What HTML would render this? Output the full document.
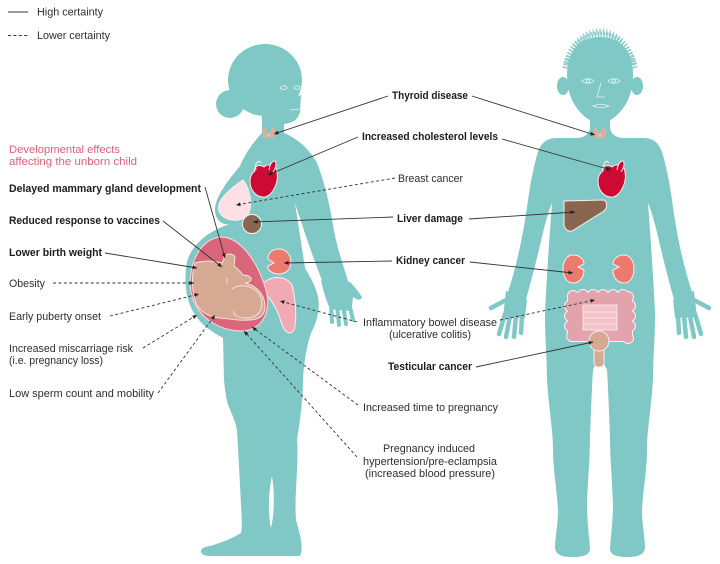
<!DOCTYPE html>
<html><head><meta charset="utf-8"><style>
html,body{margin:0;padding:0;background:#fff;}
svg{display:block;}
text{font-family:"Liberation Sans",sans-serif;font-size:11px;fill:#2e2e2e;}
.b{font-weight:bold;fill:#1c1c1c;}
.p{fill:#e0607a;}
.l{stroke:#333;stroke-width:0.9;fill:none;}
.d{stroke:#333;stroke-width:0.9;fill:none;stroke-dasharray:3 2.4;}
.o{stroke:#fbeef0;stroke-width:1;}
</style></head><body>
<svg width="720" height="564" viewBox="0 0 720 564" xmlns="http://www.w3.org/2000/svg">
<defs>
<marker id="a" markerWidth="6" markerHeight="6" refX="4.5" refY="3" orient="auto" markerUnits="userSpaceOnUse"><path d="M0,1 L4.5,3 L0,5 Z" fill="#222"/></marker>
<path id="manL" d="M600,115 L590,115 L590,128 C589,134 585,137 578,138 L556,138 C546,138 540,144 537,155 C533,170 530,185 528,200 C524,230 518,262 507,295 L525,303 C530,285 536,263 540,245 C544,228 548,212 552,203 C550,230 547,270 545,313 C545,340 547,360 547,380 C549,410 553,430 553,450 C553,470 557,490 558,510 C558,525 555,538 555,548 C556,555 562,557 572,557 C582,557 590,556 590,548 C589,535 587,520 587,503 C588,480 590,455 590,437 C591,410 592,385 593,370 C595,364 598,362 600,362 Z"/>
<g id="manHand">
<path d="M506,291 L527,300 L525,318 L503,317 Z"/>
<g stroke="#7fc8c6" stroke-width="4.5" stroke-linecap="round">
<line x1="508" y1="299" x2="491" y2="308"/>
<line x1="505" y1="314" x2="499" y2="334"/>
<line x1="510" y1="316" x2="506" y2="337"/>
<line x1="516" y1="316" x2="514" y2="337"/>
<line x1="522" y1="315" x2="521" y2="333"/>
</g>
</g>
<path id="kid" d="M573,255 C579,255 584,259 584,264 L578,267 L584,270 C584,278 579,283 573,283 C567,283 563,277 563,269 C563,261 567,255 573,255 Z"/>
<g id="heart">
<path d="M255,171 C253,166 260,164 264,167 C268,163 277,165 277,172 C279,182 273,195 265,197 C256,198 250,190 250,181 C250,176 252,173 255,171 Z" fill="#cc0a34" stroke="#fbeef0" stroke-width="1"/>
<path d="M256,170 C255,165 256,162 259,161 M259,161 L261,163" stroke="#fbeef0" stroke-width="1" fill="none"/>
<path d="M269,170 C270,164 272,161 275,161 C277,163 276,168 273,172" stroke="#fbeef0" stroke-width="1" fill="#cc0a34"/>
</g>
<g id="thy">
<path d="M263,130 C263,127 267,127 267,130 L267,133 L271,133 L271,130 C271,127 275,127 275,130 L275,136 C275,139 271,139 270,137 L268,137 C267,139 263,139 263,136 Z" fill="#dcae9c"/>
<line x1="269" y1="133" x2="269" y2="137" stroke="#f6e3dc" stroke-width="0.8"/>
</g>
</defs>

<!-- legend -->
<line x1="8" y1="12" x2="28" y2="12" class="l"/>
<line x1="8" y1="35.5" x2="28" y2="35.5" class="d"/>
<text x="37" y="15.5" textLength="66" lengthAdjust="spacingAndGlyphs">High certainty</text>
<text x="37" y="39" textLength="73" lengthAdjust="spacingAndGlyphs">Lower certainty</text>

<!-- WOMAN -->
<g fill="#7fc8c6">
<ellipse cx="265" cy="80" rx="37" ry="36"/>
<circle cx="230" cy="104" r="14"/>
<path d="M266,108 L301,95 L300,112 C298,120 292,123 284,124 L266,126 Z"/>
<rect x="262" y="110" width="22" height="30"/>
<path d="M263,132 C255,140 246,152 240,166 C230,178 215,196 215,210 C215,221 224,226 231,224 C214,228 192,242 187,262 C183,285 186,310 205,326 C212,332 218,335 223,338 L224,380 C225,390 226,397 228,405 C231,412 235,420 237,430 C238,450 240,480 241,505 C242,520 242,528 241,533 C230,540 215,545 205,547 C199,549 199,556 210,556 L300,556 C304,548 300,535 296,520 C294,495 299,465 297,440 C300,420 303,400 303,380 C304,360 307,345 311,333 C318,320 321,305 317,293 C314,283 309,275 305,268 L295,203 C302,225 312,255 323,283 L349,284 C343,265 336,245 333,225 C329,200 323,178 317,163 C309,148 296,138 284,133 Z"/>
<path d="M321,280 L350,282 C355,287 359,292 362,297 C361,301 357,300 353,297 L352,306 C350,312 345,312 340,310 L330,309 C326,300 323,290 321,280 Z"/>
<g stroke="#7fc8c6" stroke-width="4" stroke-linecap="round">
<line x1="331" y1="304" x2="332" y2="322"/>
<line x1="337" y1="305" x2="339" y2="325"/>
<line x1="343" y1="305" x2="346" y2="324"/>
<line x1="349" y1="303" x2="353" y2="320"/>
</g>
</g>
<path d="M272,476 C268,495 268,515 271,528 C274,515 275,495 272,476 Z" fill="#fff"/>
<!-- woman face -->
<path d="M280,88 C282,85 286,85 287,88 C285,90 282,90 280,88 Z M294,88 C296,85 299,85 300,88 C298,90 296,90 294,88 Z" fill="none" stroke="#e6f4f3" stroke-width="0.8"/>
<path d="M290,110 L299,109" stroke="#e6f4f3" stroke-width="0.8"/>

<!-- woman organs -->
<use href="#thy"/>
<use href="#heart"/>
<path d="M243,180 C248,186 252,198 250,210 C248,218 240,221 232,220 C222,219 217,212 219,204 C222,195 234,186 243,180 Z" fill="#fde0e5" class="o"/>
<circle cx="252" cy="224" r="9.5" fill="#8a6650" class="o"/>
<path d="M279,249 C287,249 291,256 291,262 C291,269 286,274 279,274 C272,274 267,270 268,266 L274,263 L268,259 C268,253 272,249 279,249 Z" fill="#ec7a6f" class="o"/>
<path d="M262,285 C268,276 285,274 292,285 C296,300 297,320 294,330 C290,336 285,332 282,325 C278,310 272,300 264,292 C260,290 260,287 262,285 Z" fill="#f1aab4" class="o"/>
<path d="M220,237 C240,236 258,262 266,290 C272,312 262,330 242,331 C220,331 196,318 191,292 C187,265 200,239 220,237 Z" fill="#d9667b" stroke="#f6d0d5" stroke-width="1.2"/>
<path d="M195,263 C205,260 214,261 222,263 L224,259 C222,253 235,252 235,258 L234,266 C238,269 241,272 243,275 C248,275 252,277 251,280 C249,283 246,283 245,283 C255,285 264,293 265,305 C266,316 258,320 248,320 C240,321 230,319 220,318 C208,317 199,311 196,303 C192,293 191,275 195,263 Z" fill="#d6a993" stroke="#f6e3dc" stroke-width="1"/>
<path d="M232,289 C240,283 256,285 261,298 C264,310 258,318 246,318 C238,318 233,315 234,311" fill="none" stroke="#f6e3dc" stroke-width="1"/>
<path d="M227,278 L227,283" stroke="#f6e3dc" stroke-width="1"/>

<!-- MAN -->
<g fill="#7fc8c6">
<use href="#manL"/>
<use href="#manL" transform="matrix(-1 0 0 1 1200 0)"/>
<use href="#manHand"/>
<use href="#manHand" transform="matrix(-1 0 0 1 1200 0)"/>
<path d="M567,75 C567,50 580,37 600,37 C620,37 633,50 633,75 C633,95 625,110 612,119 C606,123 594,123 588,119 C575,110 567,95 567,75 Z"/>
<ellipse cx="563" cy="86" rx="6" ry="9"/>
<ellipse cx="637" cy="86" rx="6" ry="9"/>
</g>
<path d="M567.2,68.6 A34 44 0 0 1 632.8 68.6" fill="none" stroke="#7fc8c6" stroke-width="10" stroke-dasharray="1.2 1.6"/>
<path d="M566,66 A35 45 0 0 1 634 66" fill="none" stroke="#7fc8c6" stroke-width="6" stroke-dasharray="1 2.3" stroke-dashoffset="1"/>
<!-- man face -->
<g fill="none" stroke="#e6f4f3" stroke-width="0.8">
<path d="M582,81 C585,78 591,78 594,81 C591,84 585,84 582,81 Z"/>
<circle cx="588" cy="81" r="1.5"/>
<path d="M608,81 C611,78 617,78 620,81 C617,84 611,84 608,81 Z"/>
<circle cx="614" cy="81" r="1.5"/>
<path d="M601,83 L597,97 L605,97"/>
<path d="M593,106 C598,104 604,104 609,106 C604,108 598,108 593,106 Z"/>
</g>

<!-- man organs -->
<use href="#thy" transform="translate(331,0)"/>
<use href="#heart" transform="translate(348,0)"/>
<path d="M564,201 L604,200 C608,203 607,208 604,211 L572,231 C567,232 564,228 564,224 Z" fill="#8a6650" class="o"/>
<use href="#kid" fill="#ec7a6f" class="o"/>
<use href="#kid" fill="#ec7a6f" class="o" transform="matrix(-1 0 0 1 1197 0)"/>
<g fill="#e3a3ac" stroke="#fbeef0" stroke-width="2">
<rect x="568" y="293" width="64" height="48" rx="5"/>
<circle cx="573" cy="296" r="5"/><circle cx="583" cy="295" r="5"/><circle cx="593" cy="295" r="5"/><circle cx="603" cy="295" r="5"/><circle cx="613" cy="295" r="5"/><circle cx="623" cy="295" r="5"/><circle cx="628" cy="297" r="5"/>
<circle cx="570" cy="306" r="5"/><circle cx="570" cy="316" r="5"/><circle cx="570" cy="326" r="5"/><circle cx="572" cy="336" r="5"/>
<circle cx="630" cy="306" r="5"/><circle cx="630" cy="316" r="5"/><circle cx="630" cy="326" r="5"/><circle cx="628" cy="338" r="5"/>
</g>
<g fill="#e3a3ac">
<rect x="568" y="293" width="64" height="48" rx="5"/>
<circle cx="573" cy="296" r="5"/><circle cx="583" cy="295" r="5"/><circle cx="593" cy="295" r="5"/><circle cx="603" cy="295" r="5"/><circle cx="613" cy="295" r="5"/><circle cx="623" cy="295" r="5"/><circle cx="628" cy="297" r="5"/>
<circle cx="570" cy="306" r="5"/><circle cx="570" cy="316" r="5"/><circle cx="570" cy="326" r="5"/><circle cx="572" cy="336" r="5"/>
<circle cx="630" cy="306" r="5"/><circle cx="630" cy="316" r="5"/><circle cx="630" cy="326" r="5"/><circle cx="628" cy="338" r="5"/>
</g>
<rect x="583" y="305" width="34" height="25" fill="#f2c3c8" stroke="#fbeef0" stroke-width="0.8"/>
<path d="M583,312 L617,312 M583,318 L617,318 M583,324 L617,324" stroke="#fbeef0" stroke-width="0.8"/>
<rect x="594" y="345" width="10" height="22" rx="4" fill="#d6a993" stroke="#fbeef0" stroke-width="1"/>
<circle cx="599" cy="341" r="10" fill="#d6a993" stroke="#fbeef0" stroke-width="1"/>

<!-- connectors: left labels -->
<path d="M205,187 L225,258" class="l" marker-end="url(#a)"/>
<path d="M163,221 L222,267" class="l" marker-end="url(#a)"/>
<path d="M105,253 L197,268" class="l" marker-end="url(#a)"/>
<path d="M53,283 L194,283" class="d" marker-end="url(#a)"/>
<path d="M110,316 L199,294" class="d" marker-end="url(#a)"/>
<path d="M143,348 L197,315" class="d" marker-end="url(#a)"/>
<path d="M158,393 L215,315" class="d" marker-end="url(#a)"/>

<!-- connectors: middle to woman -->
<path d="M388,96 L274,134" class="l" marker-end="url(#a)"/>
<path d="M358,137 L268,175" class="l" marker-end="url(#a)"/>
<path d="M395,178 L236,205" class="d" marker-end="url(#a)"/>
<path d="M393,217 L253,222" class="l" marker-end="url(#a)"/>
<path d="M392,261 L284,263" class="l" marker-end="url(#a)"/>
<path d="M357,322 L280,301" class="d" marker-end="url(#a)"/>
<path d="M358,405 L252,327" class="d" marker-end="url(#a)"/>
<path d="M357,457 L244,331" class="d" marker-end="url(#a)"/>

<!-- connectors: middle to man -->
<path d="M472,96 L595,135" class="l" marker-end="url(#a)"/>
<path d="M502,139 L611,170" class="l" marker-end="url(#a)"/>
<path d="M469,219 L575,212" class="l" marker-end="url(#a)"/>
<path d="M470,262 L573,273" class="l" marker-end="url(#a)"/>
<path d="M500,320 L595,300" class="d" marker-end="url(#a)"/>
<path d="M476,367 L593,342" class="l" marker-end="url(#a)"/>

<!-- left labels -->
<text x="9" y="153" class="p" textLength="111" lengthAdjust="spacingAndGlyphs">Developmental effects</text>
<text x="9" y="165" class="p" textLength="128" lengthAdjust="spacingAndGlyphs">affecting the unborn child</text>
<text x="9" y="192" class="b" textLength="192" lengthAdjust="spacingAndGlyphs">Delayed mammary gland development</text>
<text x="9" y="224" class="b" textLength="151" lengthAdjust="spacingAndGlyphs">Reduced response to vaccines</text>
<text x="9" y="256" class="b" textLength="93" lengthAdjust="spacingAndGlyphs">Lower birth weight</text>
<text x="9" y="287" textLength="36" lengthAdjust="spacingAndGlyphs">Obesity</text>
<text x="9" y="320" textLength="92" lengthAdjust="spacingAndGlyphs">Early puberty onset</text>
<text x="9" y="352" textLength="124" lengthAdjust="spacingAndGlyphs">Increased miscarriage risk</text>
<text x="9" y="364" textLength="94" lengthAdjust="spacingAndGlyphs">(i.e. pregnancy loss)</text>
<text x="9" y="397" textLength="145" lengthAdjust="spacingAndGlyphs">Low sperm count and mobility</text>

<!-- middle labels -->
<text x="392" y="99" class="b" textLength="76" lengthAdjust="spacingAndGlyphs">Thyroid disease</text>
<text x="362" y="140" class="b" textLength="136" lengthAdjust="spacingAndGlyphs">Increased cholesterol levels</text>
<text x="398" y="182" textLength="65" lengthAdjust="spacingAndGlyphs">Breast cancer</text>
<text x="397" y="222" class="b" textLength="66" lengthAdjust="spacingAndGlyphs">Liver damage</text>
<text x="396" y="264" class="b" textLength="69" lengthAdjust="spacingAndGlyphs">Kidney cancer</text>
<text x="363" y="326" textLength="134" lengthAdjust="spacingAndGlyphs">Inflammatory bowel disease</text>
<text x="389" y="338" textLength="82" lengthAdjust="spacingAndGlyphs">(ulcerative colitis)</text>
<text x="388" y="370" class="b" textLength="84" lengthAdjust="spacingAndGlyphs">Testicular cancer</text>
<text x="363" y="411" textLength="135" lengthAdjust="spacingAndGlyphs">Increased time to pregnancy</text>
<text x="383" y="452" textLength="92" lengthAdjust="spacingAndGlyphs">Pregnancy induced</text>
<text x="363" y="465" textLength="134" lengthAdjust="spacingAndGlyphs">hypertension/pre-eclampsia</text>
<text x="365" y="477" textLength="130" lengthAdjust="spacingAndGlyphs">(increased blood pressure)</text>
</svg>
</body></html>
